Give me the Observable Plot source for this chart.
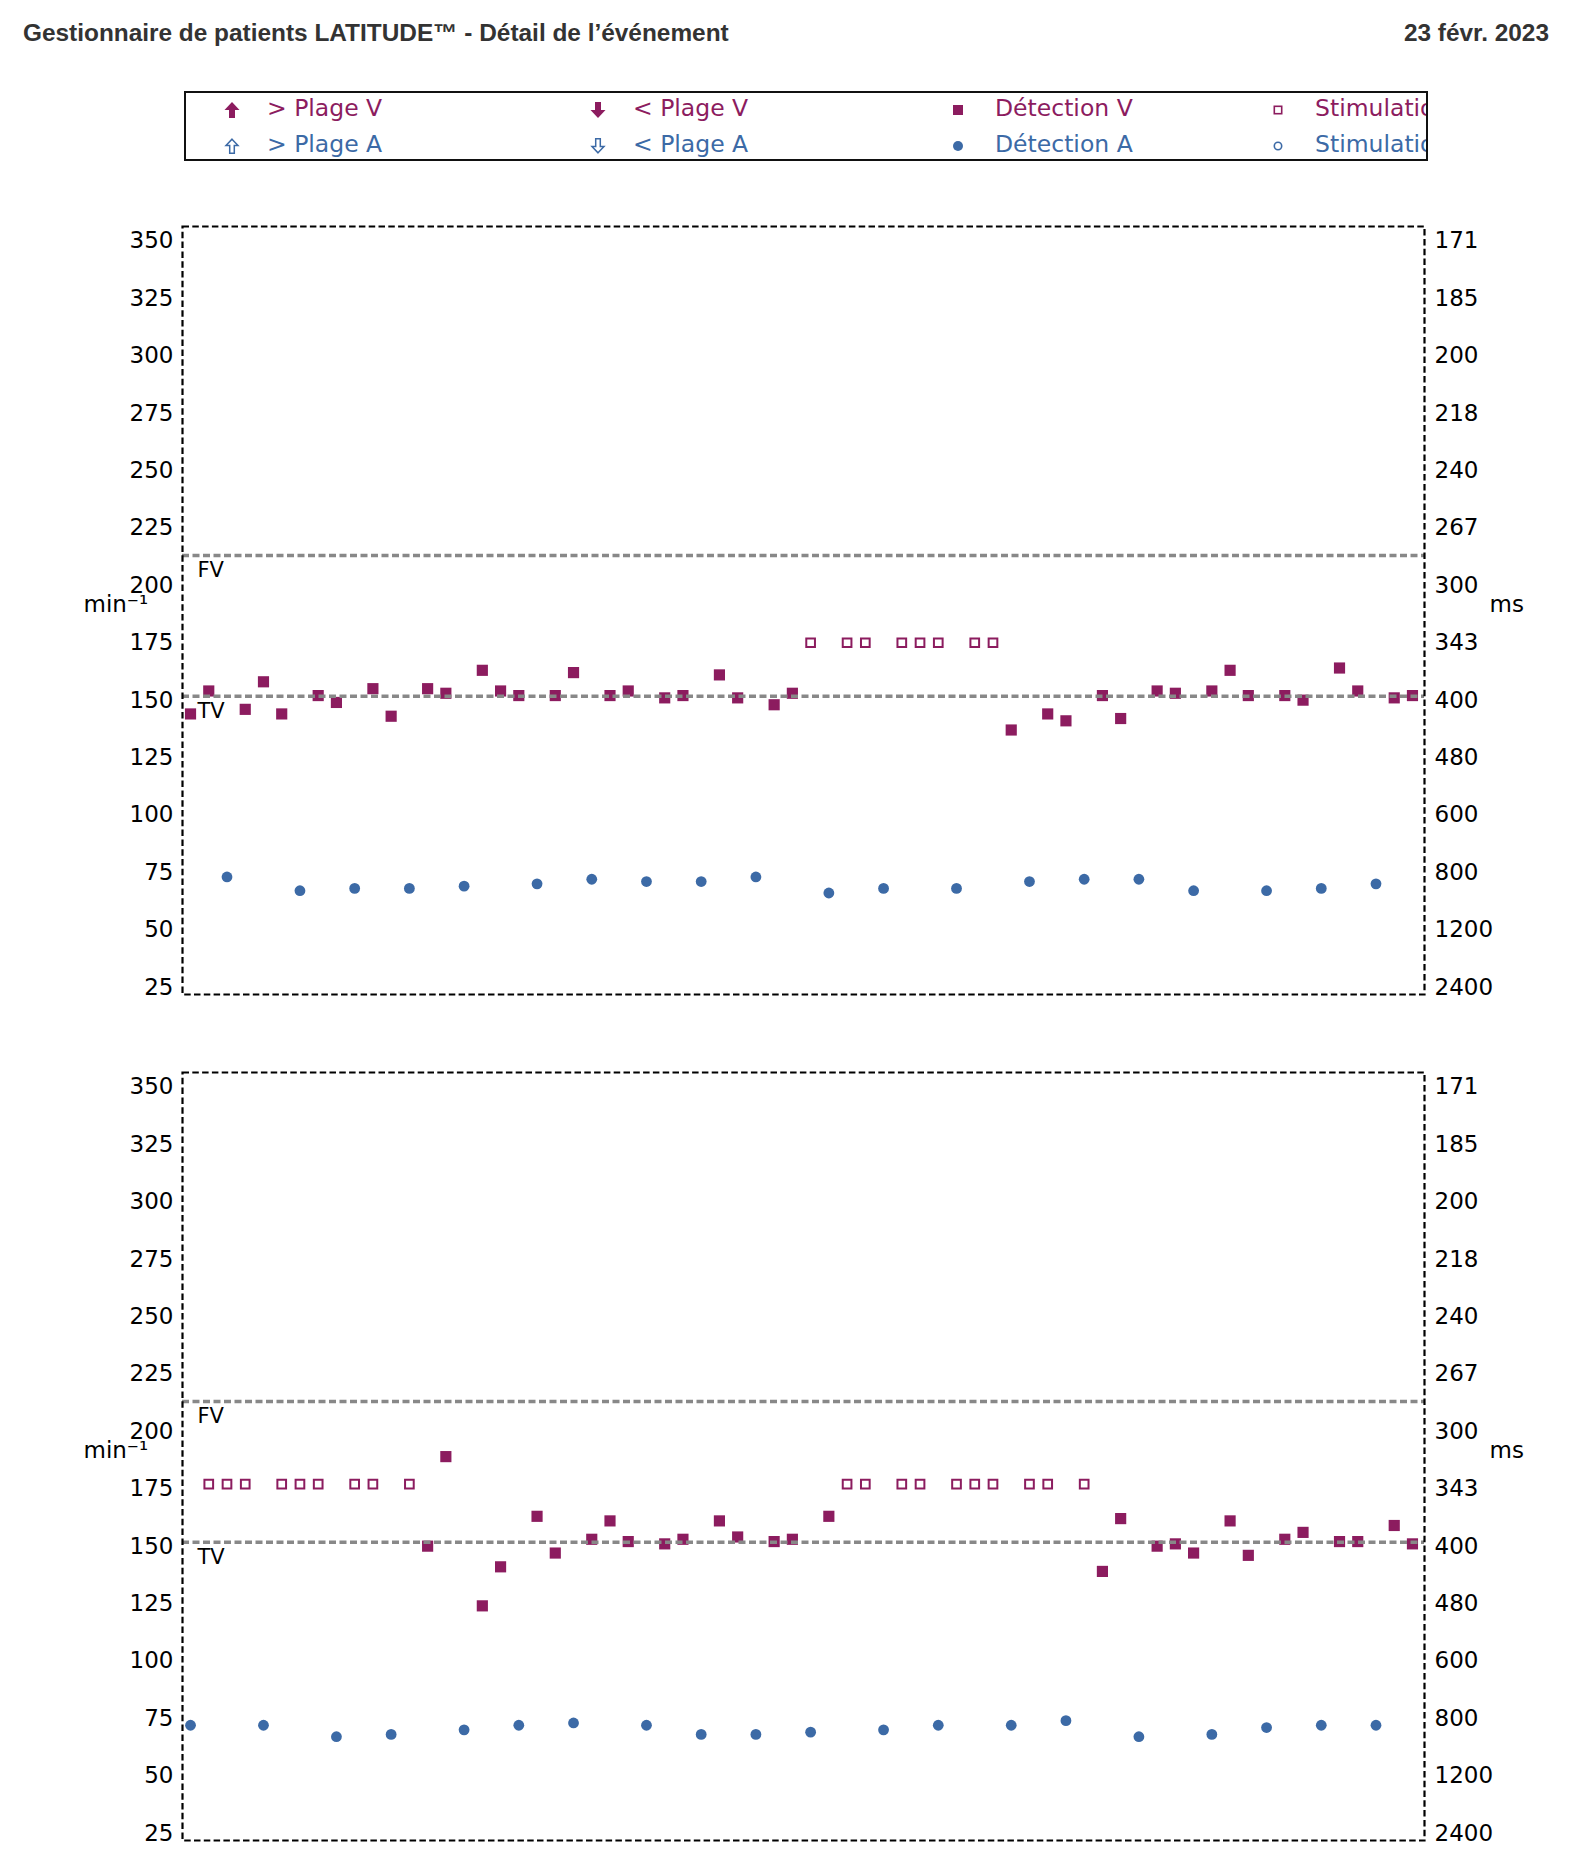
<!DOCTYPE html>
<html><head><meta charset="utf-8">
<script src="https://cdn.jsdelivr.net/npm/d3@7"></script>
<script src="https://cdn.jsdelivr.net/npm/@observablehq/plot@0.6"></script>
<style>
html,body{margin:0;padding:0;background:#fff}
body{width:1570px;height:1865px;position:relative;overflow:hidden}
#title{position:absolute;left:23px;top:19px;line-height:24px;font:bold 24.4px "Liberation Sans",Arial,sans-serif;color:#333;white-space:nowrap}
#date{position:absolute;right:21px;top:19px;line-height:24px;font:bold 24.4px "Liberation Sans",Arial,sans-serif;color:#333;white-space:nowrap}
#legend{position:absolute;left:184px;top:91px;width:1240px;height:66px;border:2px solid #111;overflow:hidden;font-family:"DejaVu Sans",sans-serif;font-size:23.5px;line-height:23.5px}
.txt{position:absolute;white-space:nowrap}
.mk{position:absolute}
.chart{position:absolute;left:0}
</style>
</head><body>
<div id="title">Gestionnaire de patients LATITUDE™ - Détail de l’événement</div>
<div id="date">23 févr. 2023</div>
<div id="legend"></div>
<div class="chart" id="c1" style="top:200px"></div>
<div class="chart" id="c2" style="top:1046px"></div>
<script>
// ---- data ----
const V_COLOR = "#8c1c5f";
const A_COLOR = "#3c6aa6";
// event types per beat slot: S = Détection V, P = Stimulation V, A = Détection A
const topTypes = "SSASSSASSA" + "SSASSASSSA" + "SSASSASSAS" + "SASSPAPPAP" + "PPAPPSASSA" + "SSASSASSSA" + "SSASSASS";
const topRates = [
  144,154,73,146,158,144,67,152,149,68,
  155,143,68,155,153,69,163,154,152,70,
  152,162,72,152,154,71,151,152,71,161,
  151,73,148,153,175,66,175,175,68,175,
  175,175,68,175,175,137,71,144,141,72,
  152,142,72,154,153,67,154,163,152,67,
  152,150,68,164,154,70,151,152];
const bottomTypes = "APPPAPPPAP" + "PAPSSASSAS" + "SASSSASSAS" + "SASSASPPAP" + "PAPPPAPPAP" + "SSASSSASSA" + "SSASSASS";
const bottomRates = [
  72,177,177,177,72,177,177,177,67,177,
  177,68,177,150,189,70,124,141,72,163,
  147,73,153,161,152,72,151,153,68,161,
  154,68,152,153,69,163,177,177,70,177,
  177,72,177,177,177,72,177,177,74,177,
  139,162,67,150,151,147,68,161,146,71,
  153,156,72,152,152,72,159,151];
const zoneValues = [213, 151.7];
const zoneLabels = ["FV", "TV"];
const yTicks = [25,50,75,100,125,150,175,200,225,250,275,300,325,350];
const legendLabels = [["> Plage V","< Plage V","Détection V","Stimulation V"],
                      ["> Plage A","< Plage A","Détection A","Stimulation A"]];

// ---- legend ----
const legend = document.getElementById("legend");
const colText = [81, 447, 809, 1129];
const colMk = [45.7, 412, 772, 1092];
const rowTop = [4, 40];
const rowMid = [17, 53];
const arrowUp = "M8,0 L15.5,8 L11,8 L11,16 L5,16 L5,8 L0.5,8 Z";
function markerSvg(row, col) {
  const c = row === 0 ? V_COLOR : A_COLOR;
  let inner = "", w = 16, h = 16;
  if (col === 0 || col === 1) {
    const tr = col === 1 ? ' transform="translate(0,16) scale(1,-1)"' : '';
    inner = row === 0
      ? `<path d="${arrowUp}" fill="${c}"${tr}/>`
      : `<g${tr}><path d="M8,1.2 L14,7.6 L10.3,7.6 L10.3,15.2 L5.7,15.2 L5.7,7.6 L2,7.6 Z" fill="#fff" stroke="${c}" stroke-width="1.5"/></g>`;
  } else if (col === 2) {
    inner = row === 0 ? `<rect x="3" y="3" width="10" height="10" fill="${c}"/>` : `<circle cx="8" cy="8" r="5" fill="${c}"/>`;
  } else {
    inner = row === 0 ? `<rect x="4.3" y="4.3" width="7.4" height="7.4" fill="#fff" stroke="${c}" stroke-width="1.6"/>` : `<circle cx="8" cy="8" r="3.7" fill="#fff" stroke="${c}" stroke-width="1.6"/>`;
  }
  return `<svg width="${w}" height="${h}" viewBox="0 0 16 16">${inner}</svg>`;
}
for (let r = 0; r < 2; r++) {
  for (let c = 0; c < 4; c++) {
    const m = document.createElement("div");
    m.className = "mk";
    m.style.left = (colMk[c] - 8) + "px";
    m.style.top = (rowMid[r] - 8) + "px";
    m.style.lineHeight = "0";
    m.innerHTML = markerSvg(r, c);
    legend.appendChild(m);
    const t = document.createElement("div");
    t.className = "txt";
    t.style.left = colText[c] + "px";
    t.style.top = rowTop[r] + "px";
    t.style.color = r === 0 ? V_COLOR : A_COLOR;
    t.textContent = legendLabels[r][c];
    legend.appendChild(t);
  }
}

// ---- charts ----
function makeChart(types, rates) {
  const events = Array.from(types).map((t, i) => ({slot: i, type: t, rate: rates[i]}));
  const zones = zoneValues.map((v, i) => ({value: v, label: zoneLabels[i]}));
  return Plot.plot({
    width: 1570,
    height: 820,
    marginTop: 26,
    marginBottom: 26,
    marginLeft: 182,
    marginRight: 146,
    style: {fontFamily: "DejaVu Sans, sans-serif", fontSize: "23px", color: "black", background: "transparent"},
    x: {domain: [-0.44, 67.66], axis: null},
    y: {domain: [21.8, 356.3], axis: null},
    marks: [
      Plot.dot(events.filter(d => d.type === "A"), {x: "slot", y: "rate", symbol: "circle", r: 5.4, fill: A_COLOR}),
      Plot.dot(events.filter(d => d.type === "S"), {x: "slot", y: "rate", symbol: "square", r: 6.3, fill: V_COLOR}),
      Plot.dot(events.filter(d => d.type === "P"), {x: "slot", y: "rate", symbol: "square", r: 4.9, fill: "#fff", stroke: V_COLOR, strokeWidth: 2}),
      Plot.ruleY(zones, {y: "value", stroke: "#888", strokeWidth: 3.5, strokeDasharray: "7,3.5"}),
      Plot.text(zones, {y: "value", text: "label", frameAnchor: "left", textAnchor: "start", lineAnchor: "top", dx: 15, dy: 7, fontSize: 21, fill: "black"}),
      Plot.axisY({anchor: "left", ticks: yTicks, tickSize: 0, tickPadding: 9, fontSize: 23, label: null}),
      Plot.axisY({anchor: "right", ticks: yTicks, tickSize: 0, tickPadding: 10, fontSize: 23, label: null, tickFormat: d => String(Math.round(60000 / d))}),
      Plot.text(["min⁻¹"], {text: d => d, frameAnchor: "left", textAnchor: "start", lineAnchor: "middle", dx: -99, dy: -6, fontSize: 23, fill: "black"}),
      Plot.text(["ms"], {text: d => d, frameAnchor: "right", textAnchor: "start", lineAnchor: "middle", dx: 65, dy: -6, fontSize: 23, fill: "black"}),
      Plot.frame({stroke: "black", strokeWidth: 2.2, strokeDasharray: "6.5,3.3"})
    ]
  });
}
document.getElementById("c1").appendChild(makeChart(topTypes, topRates));
document.getElementById("c2").appendChild(makeChart(bottomTypes, bottomRates));
</script>
</body></html>
